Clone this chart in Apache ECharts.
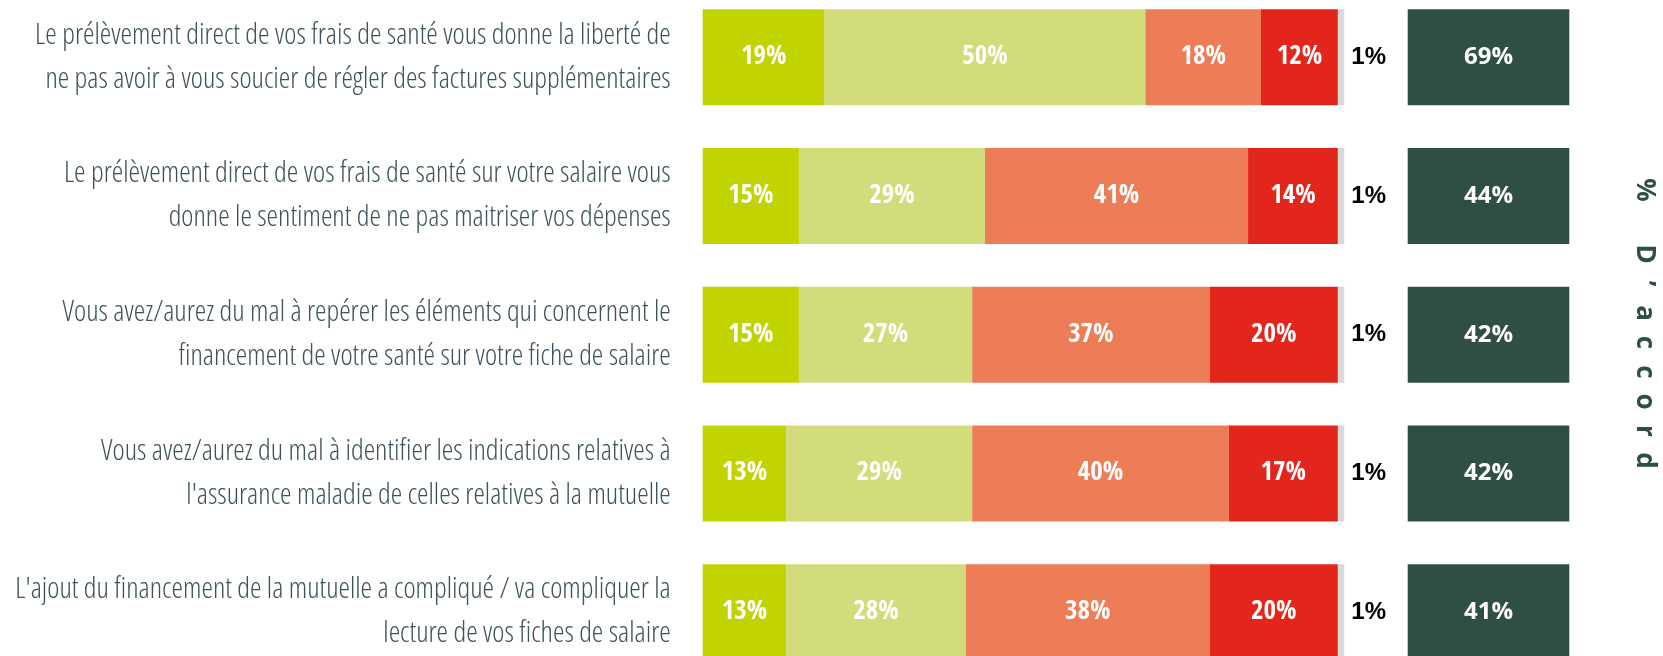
<!DOCTYPE html>
<html>
<head>
<meta charset="utf-8">
<script src="https://cdn.jsdelivr.net/npm/echarts@6/dist/echarts.min.js"></script>
<style>
  html, body { margin: 0; padding: 0; background: #fff; overflow: hidden; }
  body { width: 1663px; height: 656px; position: relative; }
  /* the last row runs past the bottom edge in the original, so the canvas is a bit taller */
  #chart { position: absolute; left: 0; top: -12px; width: 1663px; height: 694px; }
</style>
</head>
<body>
<div id="chart"></div>
<script>
const statements = [
  'Le prélèvement direct de vos frais de santé vous donne la liberté de\nne pas avoir à vous soucier de régler des factures supplémentaires',
  'Le prélèvement direct de vos frais de santé sur votre salaire vous\ndonne le sentiment de ne pas maitriser vos dépenses',
  'Vous avez/aurez du mal à repérer les éléments qui concernent le\nfinancement de votre santé sur votre fiche de salaire',
  'Vous avez/aurez du mal à identifier les indications relatives à\nl\'assurance maladie de celles relatives à la mutuelle',
  'L\'ajout du financement de la mutuelle a compliqué / va compliquer la\nlecture de vos fiches de salaire'
];

const toutAFait = [19, 15, 15, 13, 13];
const plutotOui = [50, 29, 27, 29, 28];
const plutotNon = [18, 41, 37, 40, 38];
const pasDuTout = [12, 14, 20, 17, 20];
const nsp = [1, 1, 1, 1, 1];
const accord = [69, 44, 42, 42, 41];

const sideTitle = '% D’accord';

const condensed = "'Open Sans Condensed', 'Liberation Sans Narrow', 'Liberation Sans', sans-serif";
const inkGreen = '#2F4F45';

const chart = echarts.init(document.getElementById('chart'));

const segment = (name, data, color) => ({
  name,
  type: 'bar',
  stack: 'total',
  data,
  barWidth: 96,
  itemStyle: { color },
  label: {
    show: true,
    position: 'inside',
    formatter: '{c}%',
    color: '#fff',
    fontFamily: condensed,
    fontWeight: 'bold',
    fontSize: 27
  },
  emphasis: { disabled: true }
});

// vertical side title, one glyph at a time so the letters can be spaced out
const titleChars = [];
const word = sideTitle.split(' ');
titleChars.push({ ch: word[0], y: 202 });
word[1].split('').forEach((ch, i) => titleChars.push({ ch, y: 266 + i * 29.5 }));

const option = {
  animation: false,
  grid: [
    { left: 702.7, width: 641.6, top: 0, height: 693.5, outerBoundsMode: 'none' },
    { left: 1407.7, width: 161.6, top: 0, height: 693.5, outerBoundsMode: 'none' }
  ],
  xAxis: [
    { gridIndex: 0, type: 'value', min: 0, max: 100, show: false },
    { gridIndex: 1, type: 'value', min: 0, max: 1, show: false }
  ],
  yAxis: [
    {
      gridIndex: 0,
      type: 'category',
      inverse: true,
      data: statements,
      axisLine: { show: false },
      axisTick: { show: false },
      axisLabel: {
        margin: 32,
        color: '#3E525B',
        fontFamily: "'Open Sans', sans-serif",
        // light + condensed width, slipped into the canvas font shorthand
        fontWeight: '300 condensed',
        fontSize: 29,
        lineHeight: 44,
        align: 'right'
      }
    },
    {
      gridIndex: 1,
      type: 'category',
      inverse: true,
      data: statements,
      show: false
    }
  ],
  series: [
    segment('Tout à fait d\'accord', toutAFait, '#C2D400'),
    segment('Plutôt d\'accord', plutotOui, '#D2DC7A'),
    segment('Plutôt pas d\'accord', plutotNon, '#ED7D57'),
    segment('Pas du tout d\'accord', pasDuTout, '#E3261C'),
    {
      name: 'NSP',
      type: 'bar',
      stack: 'total',
      data: nsp,
      barWidth: 96,
      itemStyle: { color: '#D9D9D9' },
      label: {
        show: true,
        position: 'right',
        distance: 7,
        formatter: '{c}%',
        color: '#000',
        fontFamily: "'Liberation Sans', Arial, sans-serif",
        fontWeight: 'bold',
        fontSize: 24
      },
      emphasis: { disabled: true }
    },
    {
      name: '% D\'accord',
      type: 'bar',
      xAxisIndex: 1,
      yAxisIndex: 1,
      barWidth: 96,
      data: accord.map((v) => ({ value: 1, agree: v })),
      itemStyle: { color: inkGreen },
      label: {
        show: true,
        position: 'inside',
        formatter: (p) => p.data.agree + '%',
        color: '#fff',
        fontFamily: "'Open Sans', sans-serif",
        fontWeight: 'bold',
        fontSize: 24
      },
      emphasis: { disabled: true }
    }
  ],
  graphic: titleChars.map(({ ch, y }) => ({
    type: 'text',
    x: 1644,
    y,
    rotation: -Math.PI / 2,
    style: {
      text: ch,
      fill: inkGreen,
      font: "bold 26px 'Open Sans', sans-serif",
      align: 'center',
      verticalAlign: 'middle'
    }
  }))
};

chart.setOption(option);
</script>
</body>
</html>
